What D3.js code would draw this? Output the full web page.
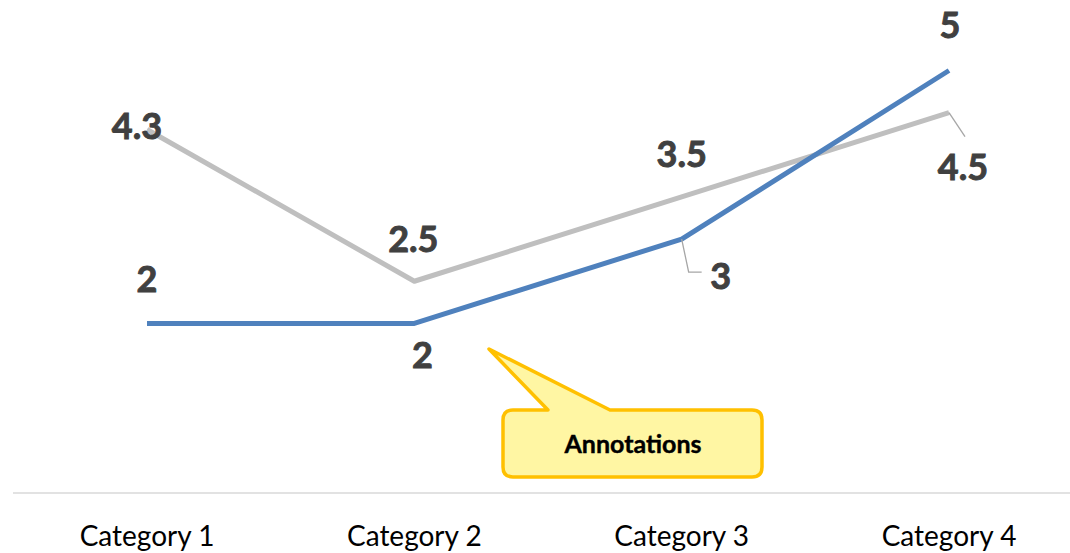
<!DOCTYPE html>
<html><head><meta charset="utf-8">
<script src="https://cdn.jsdelivr.net/npm/d3@7"></script>
<style>body{margin:0;background:#fff;}svg{display:block;}</style>
</head><body>
<svg id="chart" width="1070" height="553"></svg>
<script>
const categories = ["Category 1", "Category 2", "Category 3", "Category 4"];
const seriesBlue = [2, 2, 3, 5];
const seriesGray = [4.3, 2.5, 3.5, 4.5];
const annotationText = "Annotations";

const svg = d3.select("#chart");
const x = d3.scalePoint().domain(categories).range([147, 949]);
const y = d3.scaleLinear().domain([0, 5]).range([492, 70.5]);

// axis baseline
svg.append("line").attr("x1", 13).attr("x2", 1070).attr("y1", 493).attr("y2", 493)
  .attr("stroke", "#d9d9d9").attr("stroke-width", 1.5);

svg.selectAll("text.cat").data(categories).enter().append("text")
  .attr("x", d => x(d)).attr("y", 546).attr("text-anchor", "middle")
  .attr("font-family", "Lato, 'Open Sans', sans-serif").attr("font-size", 28)
  .attr("fill", "#000").text(d => d);

const line = d3.line().x((d, i) => x(categories[i])).y(d => y(d));

svg.append("path").datum(seriesGray).attr("d", line).attr("fill", "none")
  .attr("stroke", "#bfbfbf").attr("stroke-width", 5).attr("stroke-linejoin", "round");
svg.append("path").datum(seriesBlue).attr("d", line).attr("fill", "none")
  .attr("stroke", "#4f81bd").attr("stroke-width", 5).attr("stroke-linejoin", "round");

// leader lines
const lead = d3.line();
svg.append("path").attr("d", lead([[x(categories[2]), y(seriesBlue[2])], [x(categories[2]) + 7, y(seriesBlue[2]) + 33], [x(categories[2]) + 20, y(seriesBlue[2]) + 33]]))
  .attr("fill", "none").attr("stroke", "#a6a6a6").attr("stroke-width", 1.3);
svg.append("path").attr("d", lead([[x(categories[3]), y(seriesGray[3])], [x(categories[3]) + 16, y(seriesGray[3]) + 24]]))
  .attr("fill", "none").attr("stroke", "#a6a6a6").attr("stroke-width", 1.3);

// data labels: offsets (baseline) per point
const blueOff = [[0, -31], [8, 45], [39, 50], [1, -32.5]];
const grayOff = [[-10, 9], [-1, -29], [0, -30], [14, 67]];
function labels(data, off) {
  svg.append("g").selectAll("text").data(data).enter().append("text")
    .attr("x", (d, i) => x(categories[i]) + off[i][0])
    .attr("y", (d, i) => y(d) + off[i][1])
    .attr("text-anchor", "middle")
    .attr("font-family", "Lato, 'Open Sans', sans-serif").attr("font-weight", "bold")
    .attr("font-size", 36).attr("fill", "#404040")
    .attr("stroke", "#404040").attr("stroke-width", 0.9).text(d => d);
}
labels(seriesBlue, blueOff);
labels(seriesGray, grayOff);

// callout
const cx0 = 503, cx1 = 762, cy0 = 410, cy1 = 477, r = 10;
const callout = `M${cx0 + r},${cy0} L548,${cy0} L489,349 L610,${cy0} L${cx1 - r},${cy0}
 Q${cx1},${cy0} ${cx1},${cy0 + r} L${cx1},${cy1 - r} Q${cx1},${cy1} ${cx1 - r},${cy1}
 L${cx0 + r},${cy1} Q${cx0},${cy1} ${cx0},${cy1 - r} L${cx0},${cy0 + r} Q${cx0},${cy0} ${cx0 + r},${cy0} Z`;
svg.append("path").attr("d", callout).attr("fill", "#fff6a3").attr("stroke", "#ffc000")
  .attr("stroke-width", 3.5).attr("stroke-linejoin", "round");
svg.append("text").attr("x", 633).attr("y", 453).attr("text-anchor", "middle")
  .attr("font-family", "Lato, 'Open Sans', sans-serif")
  .attr("font-weight", "bold").attr("font-size", 25).attr("fill", "#000")
  .attr("stroke", "#000").attr("stroke-width", 0.4).text(annotationText);
</script>
</body></html>
